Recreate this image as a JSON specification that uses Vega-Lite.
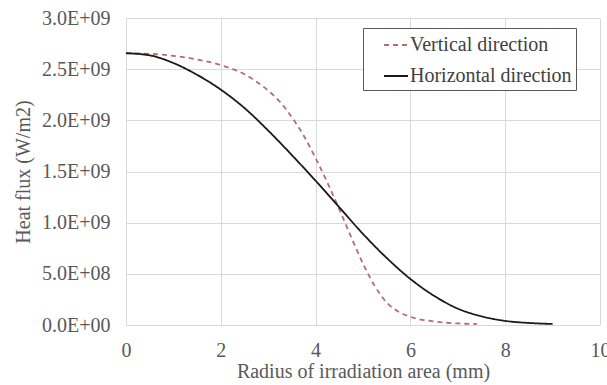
{
  "$schema": "https://vega.github.io/schema/vega-lite/v6.json",
  "width": 474,
  "height": 307,
  "autosize": {"type": "none"},
  "padding": {"left": 126, "top": 18, "right": 7, "bottom": 60},
  "background": "white",
  "config": {
    "view": {"stroke": null},
    "font": "Liberation Serif",
    "axis": {
      "labelFont": "Liberation Serif",
      "titleFont": "Liberation Serif",
      "labelFontSize": 20,
      "titleFontSize": 20,
      "labelColor": "#595959",
      "titleColor": "#595959",
      "titleFontWeight": "normal",
      "gridColor": "#d9d9d9",
      "gridWidth": 1,
      "domain": false,
      "ticks": false
    }
  },
  "data": {
    "values": [
      {"r": 0, "flux": 2.656e9, "direction": "Vertical direction"},
      {"r": 0.5, "flux": 2.65e9, "direction": "Vertical direction"},
      {"r": 1.0, "flux": 2.63e9, "direction": "Vertical direction"},
      {"r": 1.5, "flux": 2.595e9, "direction": "Vertical direction"},
      {"r": 2.0, "flux": 2.54e9, "direction": "Vertical direction"},
      {"r": 2.5, "flux": 2.45e9, "direction": "Vertical direction"},
      {"r": 3.0, "flux": 2.29e9, "direction": "Vertical direction"},
      {"r": 3.25, "flux": 2.18e9, "direction": "Vertical direction"},
      {"r": 3.5, "flux": 2.03e9, "direction": "Vertical direction"},
      {"r": 3.75, "flux": 1.85e9, "direction": "Vertical direction"},
      {"r": 4.0, "flux": 1.63e9, "direction": "Vertical direction"},
      {"r": 4.25, "flux": 1.39e9, "direction": "Vertical direction"},
      {"r": 4.5, "flux": 1.13e9, "direction": "Vertical direction"},
      {"r": 4.75, "flux": 0.86e9, "direction": "Vertical direction"},
      {"r": 5.0, "flux": 0.6e9, "direction": "Vertical direction"},
      {"r": 5.25, "flux": 0.38e9, "direction": "Vertical direction"},
      {"r": 5.5, "flux": 0.22e9, "direction": "Vertical direction"},
      {"r": 5.75, "flux": 0.13e9, "direction": "Vertical direction"},
      {"r": 6.0, "flux": 0.08e9, "direction": "Vertical direction"},
      {"r": 6.5, "flux": 0.035e9, "direction": "Vertical direction"},
      {"r": 7.0, "flux": 0.015e9, "direction": "Vertical direction"},
      {"r": 7.4, "flux": 0.01e9, "direction": "Vertical direction"},
      {"r": 0, "flux": 2.656e9, "direction": "Horizontal direction"},
      {"r": 0.5, "flux": 2.635e9, "direction": "Horizontal direction"},
      {"r": 1.0, "flux": 2.56e9, "direction": "Horizontal direction"},
      {"r": 1.5, "flux": 2.445e9, "direction": "Horizontal direction"},
      {"r": 2.0, "flux": 2.3e9, "direction": "Horizontal direction"},
      {"r": 2.5, "flux": 2.12e9, "direction": "Horizontal direction"},
      {"r": 3.0, "flux": 1.9e9, "direction": "Horizontal direction"},
      {"r": 3.5, "flux": 1.66e9, "direction": "Horizontal direction"},
      {"r": 4.0, "flux": 1.41e9, "direction": "Horizontal direction"},
      {"r": 4.5, "flux": 1.15e9, "direction": "Horizontal direction"},
      {"r": 5.0, "flux": 0.89e9, "direction": "Horizontal direction"},
      {"r": 5.5, "flux": 0.655e9, "direction": "Horizontal direction"},
      {"r": 6.0, "flux": 0.45e9, "direction": "Horizontal direction"},
      {"r": 6.5, "flux": 0.285e9, "direction": "Horizontal direction"},
      {"r": 7.0, "flux": 0.16e9, "direction": "Horizontal direction"},
      {"r": 7.5, "flux": 0.085e9, "direction": "Horizontal direction"},
      {"r": 8.0, "flux": 0.04e9, "direction": "Horizontal direction"},
      {"r": 8.5, "flux": 0.02e9, "direction": "Horizontal direction"},
      {"r": 9.0, "flux": 0.01e9, "direction": "Horizontal direction"}
    ]
  },
  "mark": {"type": "line", "interpolate": "monotone", "strokeWidth": 1.8},
  "encoding": {
    "x": {
      "field": "r",
      "type": "quantitative",
      "scale": {"domain": [0, 10], "nice": false},
      "axis": {
        "values": [0, 2, 4, 6, 8, 10],
        "title": "Radius of  irradiation area (mm)",
        "labelFont": "Liberation Serif",
        "titleFont": "Liberation Serif",
        "labelPadding": 15,
        "titlePadding": 1,
        "labelFlush": false
      }
    },
    "y": {
      "field": "flux",
      "type": "quantitative",
      "scale": {"domain": [0, 3e9], "nice": false},
      "axis": {
        "values": [0, 5e8, 1e9, 1.5e9, 2e9, 2.5e9, 3e9],
        "labelExpr": "datum.value == 0 ? '0.0E+00' : (datum.value < 1e9 ? format(datum.value / 1e8, '.1f') + 'E+08' : format(datum.value / 1e9, '.1f') + 'E+09')",
        "title": "Heat flux (W/m2)",
        "labelFont": "Liberation Serif",
        "titleFont": "Liberation Serif",
        "labelPadding": 16,
        "titlePadding": 8
      }
    },
    "color": {
      "field": "direction",
      "type": "nominal",
      "scale": {"domain": ["Vertical direction", "Horizontal direction"], "range": ["#b46c74", "#1a1a1a"]},
      "legend": {
        "title": null,
        "orient": "none",
        "legendX": 237,
        "legendY": 10,
        "direction": "vertical",
        "symbolType": "stroke",
        "symbolSize": 576,
        "symbolStrokeWidth": 2,
        "symbolOffset": 16,
        "labelFont": "Liberation Serif",
        "labelFontSize": 20,
        "labelColor": "#404040",
        "labelLimit": 400,
        "labelOffset": 1,
        "strokeColor": "#595959",
        "fillColor": "white",
        "padding": 4,
        "rowPadding": 8
      }
    },
    "strokeDash": {
      "field": "direction",
      "type": "nominal",
      "scale": {"domain": ["Vertical direction", "Horizontal direction"], "range": [[5, 4], [1, 0]]},
      "legend": null
    }
  }
}
